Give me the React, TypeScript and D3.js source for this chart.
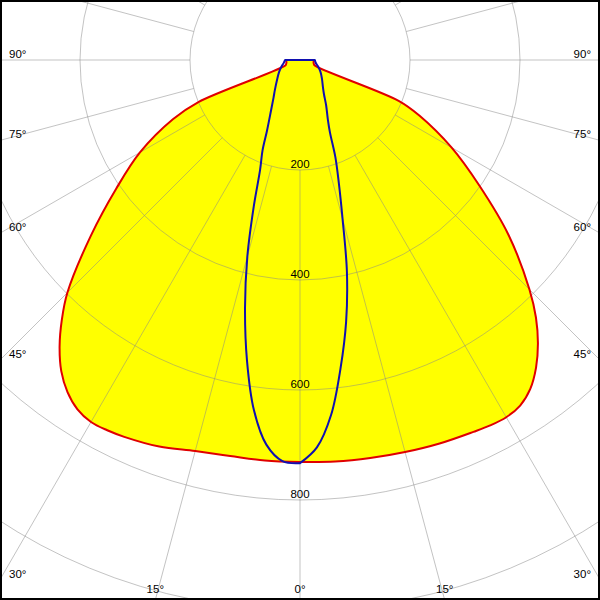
import React from "react";
import * as d3 from "d3";

// Luminous intensity (cd/klm) by gamma angle, two C-planes
const RED_ANGLES = [0, 5, 10, 15, 20, 25, 27.5, 30, 32.5, 35, 37.5, 40, 42.5, 45, 50, 55, 60, 65, 67.5, 70, 75, 80, 85, 90];
const RED_C180 = [731, 731, 731, 736, 748, 756, 759, 760, 753, 737, 713, 680, 641, 598, 496, 408, 336, 255, 200, 28, 26, 25, 25, 25];
const RED_C0 = [731, 733, 735, 738, 742, 746, 749, 750, 745, 730, 705, 673, 635, 590, 495, 398, 318, 240, 195, 28, 26, 25, 25, 25];

const BLUE_ANGLES = [0, 2.5, 5, 7.5, 10, 12.5, 15, 17.5, 20, 22.5, 25, 30, 35, 40, 50, 60, 70, 80, 90];
const BLUE_C270 = [733, 730, 702, 642, 555, 462, 370, 280, 212, 178, 142, 105, 84, 71, 54, 44, 36, 30, 27];
const BLUE_C90 = [733, 705, 648, 565, 483, 394, 299, 235, 188, 142, 120, 95, 76, 65, 52, 43, 35, 29, 27];

const RING_VALUES = [200, 400, 600, 800, 1000, 1200];
const RING_LABELS = ["200", "400", "600", "800"];
const SPOKE_ANGLES = d3.range(0, 360, 15);
const ANGLE_LABELS = [0, 15, 30, 45, 60, 75, 90];

const W = 600;
const H = 600;
const CX = 300;
const CY = 60;

const r = d3.scaleLinear().domain([0, 1000]).range([0, 550]);
const toRad = (deg: number) => (deg * Math.PI) / 180;

function buildPoints(angles: number[], left: number[], right: number[]) {
  const pts: [number, number][] = [];
  for (let i = angles.length - 1; i >= 0; i--) pts.push([Math.PI + toRad(angles[i]), r(left[i])]);
  for (let i = 0; i < angles.length; i++) pts.push([Math.PI - toRad(angles[i]), r(right[i])]);
  return pts;
}

const radial = d3
  .lineRadial<[number, number]>()
  .angle((d) => d[0])
  .radius((d) => d[1])
  .curve(d3.curveCatmullRom.alpha(0.5));

export default function App() {
  const redPath = radial(buildPoints(RED_ANGLES, RED_C180, RED_C0)) + "Z";
  const bluePath = radial(buildPoints(BLUE_ANGLES, BLUE_C270, BLUE_C90)) + "Z";
  const r0 = r(200);
  const rMax = 1000;

  // angle label placement: where each gamma ray leaves the frame
  const labels: { x: number; y: number; anchor: string; text: string }[] = [];
  ANGLE_LABELS.forEach((g) => {
    const s = Math.sin(toRad(g));
    const c = Math.cos(toRad(g));
    const tLeft = s > 1e-9 ? CX / s : Infinity;
    const tBottom = c > 1e-9 ? (H - CY) / c : Infinity;
    if (tLeft < tBottom) {
      const yHit = CY + tLeft * c;
      labels.push({ x: 9, y: yHit - 2, anchor: "start", text: `${g}°` });
      labels.push({ x: W - 9, y: yHit - 2, anchor: "end", text: `${g}°` });
    } else {
      const dx = tBottom * s;
      if (g === 0) {
        labels.push({ x: CX, y: H - 7, anchor: "middle", text: `${g}°` });
      } else {
        labels.push({ x: CX - dx, y: H - 7, anchor: "middle", text: `${g}°` });
        labels.push({ x: CX + dx, y: H - 7, anchor: "middle", text: `${g}°` });
      }
    }
  });

  return (
    <svg
      width={W}
      height={H}
      style={{ position: "absolute", left: 0, top: 0, background: "#fff" }}
      fontFamily="'Liberation Sans', Arial, sans-serif"
      fontSize={11.5}
    >
      <rect x={0} y={0} width={W} height={H} fill="#fff" />
      <g transform={`translate(${CX},${CY})`}>
        <path d={redPath} fill="#ffff00" stroke="none" />
        <g stroke="#888" strokeOpacity={0.5} fill="none" strokeWidth={1}>
          {RING_VALUES.map((v) => (
            <circle key={v} r={r(v)} />
          ))}
          {SPOKE_ANGLES.map((a) => {
            const rad = toRad(a);
            const sx = Math.sin(rad);
            const sy = Math.cos(rad);
            return <line key={a} x1={sx * r0} y1={sy * r0} x2={sx * rMax} y2={sy * rMax} />;
          })}
        </g>
        <path d={redPath} fill="none" stroke="#e00000" strokeWidth={2} strokeLinejoin="round" />
        <path d={bluePath} fill="none" stroke="#1010b0" strokeWidth={2} strokeLinejoin="round" />
        {RING_LABELS.map((t) => (
          <text key={t} x={0} y={r(+t) - 2} textAnchor="middle" fill="#000">
            {t}
          </text>
        ))}
      </g>
      {labels.map((l, i) => (
        <text key={i} x={l.x} y={l.y} textAnchor={l.anchor} fill="#000">
          {l.text}
        </text>
      ))}
      <rect x={1} y={1} width={W - 2} height={H - 2} fill="none" stroke="#000" strokeWidth={2} />
    </svg>
  );
}
